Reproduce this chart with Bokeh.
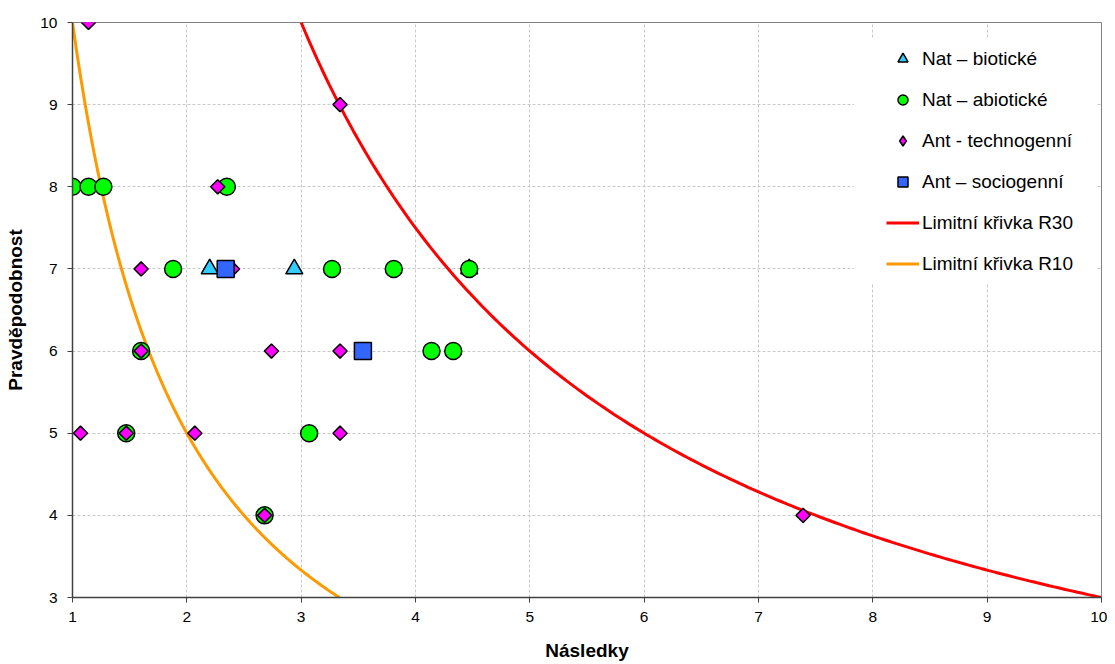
import numpy as np
from bokeh.plotting import figure
from bokeh.models import Range1d, Legend, LegendItem, BoxAnnotation, FixedTicker
from bokeh.embed import file_html
from bokeh.resources import INLINE

# ---- data ----
bio_x = [2.20, 2.94, 4.47]
bio_y = [7, 7, 7]

abio_x = [1.00, 1.14, 1.27, 2.35, 1.88, 3.27, 3.81, 4.47, 1.60, 4.14, 4.33, 1.47, 3.07, 2.68]
abio_y = [8, 8, 8, 8, 7, 7, 7, 7, 6, 6, 6, 5, 5, 4]

tech_x = [1.14, 3.34, 2.27, 1.60, 2.40, 1.60, 2.74, 3.34, 1.07, 1.47, 2.07, 3.34, 2.68, 7.39]
tech_y = [10, 9, 8, 7, 7, 6, 6, 6, 5, 5, 5, 5, 4, 4]

socio_x = [2.34, 3.54]
socio_y = [7, 6]

# limit curves: probability * consequences = R
R30 = 30.0
R10 = 10.0
x_r30 = np.linspace(R30 / 10.0, 10.0, 200)
y_r30 = R30 / x_r30
x_r10 = np.linspace(1.0, R10 / 3.0, 200)
y_r10 = R10 / x_r10

x_ticks = [1, 2, 3, 4, 5, 6, 7, 8, 9, 10]
y_ticks = [3, 4, 5, 6, 7, 8, 9, 10]

FONT = "Liberation Sans"

p = figure(width=1107, height=664, output_backend="svg", toolbar_location=None,
           x_range=Range1d(1, 10), y_range=Range1d(3, 10),
           min_border_left=72, min_border_right=6, min_border_top=22, min_border_bottom=67)
p.outline_line_color = "#808080"
p.outline_line_width = 1
p.background_fill_color = "white"

for ax in (p.xaxis[0], p.yaxis[0]):
    ax.major_label_text_font = FONT
    ax.major_label_text_font_size = "15.5px"
    ax.major_label_text_color = "black"
    ax.axis_label_text_font = FONT
    ax.axis_label_text_font_size = "19px"
    ax.axis_label_text_font_style = "bold"
    ax.axis_label_text_color = "black"
    ax.axis_line_color = "#404040"
    ax.axis_line_width = 1.5
    ax.major_tick_line_color = "#404040"
    ax.major_tick_in = 0
    ax.major_tick_out = 5
    ax.minor_tick_line_color = None

p.xaxis.axis_label = "Následky"
p.yaxis.axis_label = "Pravděpodobnost"
p.xaxis.ticker = FixedTicker(ticks=x_ticks)
p.yaxis.ticker = FixedTicker(ticks=y_ticks)
p.xaxis.major_label_standoff = 9
p.yaxis.major_label_standoff = 10
p.xaxis.axis_label_standoff = 15
p.yaxis.axis_label_standoff = 11

p.xgrid.ticker = FixedTicker(ticks=x_ticks)
p.ygrid.ticker = FixedTicker(ticks=y_ticks)
for g in (p.xgrid[0], p.ygrid[0]):
    g.grid_line_color = "#c8c8c8"
    g.grid_line_dash = "3 2"
    g.grid_line_width = 1

# legend background box
p.add_layout(BoxAnnotation(left=7.835, right=9.956, bottom=6.83, top=9.806,
                           fill_color="white", fill_alpha=1.0, line_color=None, level="underlay"))

r30 = p.line(x_r30, y_r30, line_color="#ff0000", line_width=3)
r10 = p.line(x_r10, y_r10, line_color="#ff9900", line_width=3)

rb = p.scatter(bio_x, bio_y, marker="triangle", size=17, fill_color="#33ccff",
               line_color="black", line_width=1.5)
ra = p.scatter(abio_x, abio_y, marker="circle", size=17, fill_color="#00ff00",
               line_color="black", line_width=1.5)
# narrow diamonds hidden beneath the square-diamonds; used for the legend swatch
rt_leg = p.scatter(tech_x, tech_y, marker="diamond", size=11, fill_color="#ff00ff",
                   line_color="black", line_width=1.5)
rt = p.scatter(tech_x, tech_y, marker="square", angle=np.pi / 4, size=10, fill_color="#ff00ff",
               line_color="black", line_width=1.5)
rs = p.scatter(socio_x, socio_y, marker="square", size=17, fill_color="#3366ff",
               line_color="black", line_width=1.5)

legend = Legend(items=[
    LegendItem(label="Nat – biotické", renderers=[rb]),
    LegendItem(label="Nat – abiotické", renderers=[ra]),
    LegendItem(label="Ant - technogenní", renderers=[rt_leg]),
    LegendItem(label="Ant – sociogenní", renderers=[rs]),
    LegendItem(label="Limitní křivka R30", renderers=[r30]),
    LegendItem(label="Limitní křivka R10", renderers=[r10]),
], location=(814, 321))
legend.background_fill_alpha = 0
legend.border_line_color = None
legend.label_text_font = FONT
legend.label_text_font_size = "19px"
legend.label_text_color = "black"
legend.glyph_width = 33
legend.glyph_height = 25
legend.label_height = 25
legend.spacing = 16
legend.padding = 8
legend.margin = 0
legend.label_standoff = 3
p.add_layout(legend)

open("out.html", "w").write(file_html(p, INLINE))
